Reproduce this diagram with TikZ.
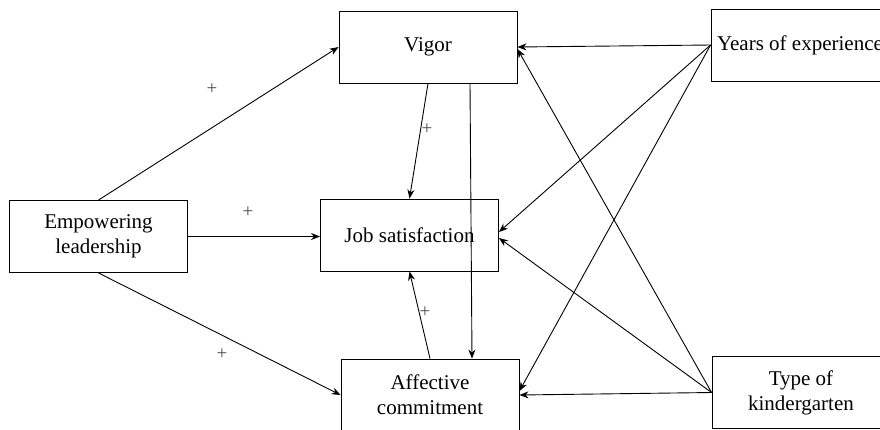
\documentclass[tikz,border=0pt]{standalone}
\usepackage{fontspec}
\setmainfont{Liberation Serif}
\usetikzlibrary{arrows.meta}

\tikzset{box/.style={draw,line width=0.9pt,minimum width=178pt,minimum height=72pt,align=center,inner sep=0pt,font=\fontsize{21}{25}\selectfont},
sign/.style={text=black!70,font=\fontsize{19}{19}\selectfont,inner sep=0pt},
link/.style={-{Stealth[length=9pt,width=7pt]},line width=0.9pt}}

\begin{document}
\begin{tikzpicture}[x=1pt,y=-1pt]
\useasboundingbox (0,0) rectangle (880,429);
\node[box] (emp) at (98.5,236.5) {Empowering\\leadership};
\node[box] (vigor) at (428,47) {Vigor};
\node[box] (job) at (409.5,235) {Job satisfaction};
\node[box] (aff) at (430,395) {Affective\\commitment};
\node[box] (years) at (800,45) {Years of experience};
\node[box] (type) at (801,392.5) {Type of\\kindergarten};
\node[sign] (s1) at (212,89) {+};
\node[sign] (s2) at (248,212) {+};
\node[sign] (s3) at (427,129) {+};
\node[sign] (s4) at (222,354) {+};
\node[sign] (s5) at (425,312) {+};
\draw[link] (emp.north) -- (vigor.west);
\draw[link] (emp.east) -- (emp.east -| job.west);
\draw[link] (emp.south) -- (aff.west);
\draw[link] (vigor.south) -- (job.north);
\draw[link] ([xshift=42pt]vigor.south) -- ([xshift=42pt]aff.north);
\draw[link] (aff.north) -- (job.south);
\draw[link] (years.west) -- (vigor.east);
\draw[link] (years.west) -- ([yshift=3pt]job.east);
\draw[link] (years.west) -- ([yshift=4pt]aff.east);
\draw[link] (type.west) -- ([yshift=-2pt]vigor.east);
\draw[link] (type.west) -- ([yshift=-3pt]job.east);
\draw[link] (type.west) -- (aff.east);
\end{tikzpicture}
\end{document}
